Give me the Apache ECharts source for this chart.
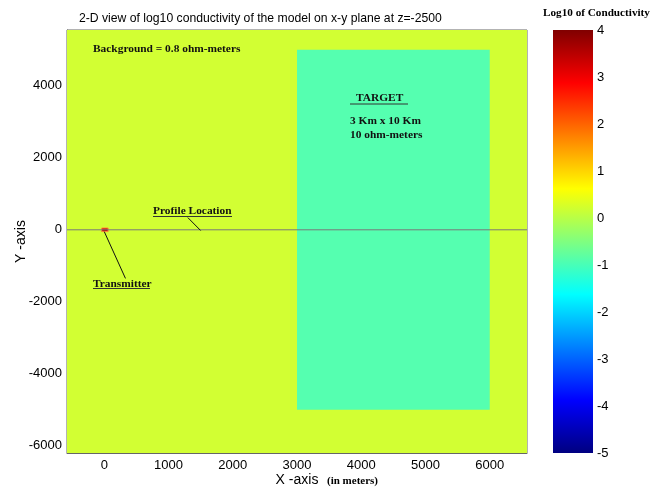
<!DOCTYPE html>
<html>
<head>
<meta charset="utf-8">
<script src="https://cdn.jsdelivr.net/npm/echarts@6/dist/echarts.min.js"></script>
<style>
  html, body { margin: 0; padding: 0; background: #fff; }
  #main { width: 665px; height: 490px; }
</style>
</head>
<body>
<div id="main"></div>
<script>
// axis extents (meters)
var xRange = [-580, 6580];
var yRange = [-6200, 5550];
var xTicks = [0, 1000, 2000, 3000, 4000, 5000, 6000];
var yTicks = [-6000, -4000, -2000, 0, 2000, 4000];

// model blocks: [xmin, xmax, ymin, ymax]
var background = [-580, 6580, -6200, 5550];
var target = [3000, 6000, -5000, 5000];
var transmitter = [-40, 60, -50, 50];
var profileLine = [[-580, 0], [6580, 0]];

// leader lines of the notes
var transmitterLeader = [[0, -50], [330, -1350]];
var profileLeader = [[1300, 340], [1500, -20]];

// colorbar (log10 of conductivity)
var cbMin = -5;
var cbMax = 4;

var bgColor = '#d2ff33';
var targetColor = '#55ffb0';
var serif = '"Liberation Serif", "Times New Roman", serif';
var sans = '"Liberation Sans", Arial, sans-serif';

// jet colormap, top of bar first
var jetStops = [
    { offset: 0, color: '#800000' },
    { offset: 0.125, color: '#ff0000' },
    { offset: 0.375, color: '#ffff00' },
    { offset: 0.625, color: '#00ffff' },
    { offset: 0.875, color: '#0000ff' },
    { offset: 1, color: '#000080' }
];

function rectItem(fill, stroke) {
    return function (params, api) {
        var p0 = api.coord([api.value(0), api.value(3)]);
        var p1 = api.coord([api.value(1), api.value(2)]);
        return {
            type: 'rect',
            shape: { x: p0[0], y: p0[1], width: p1[0] - p0[0], height: p1[1] - p0[1] },
            style: { fill: fill, stroke: stroke || null, lineWidth: stroke ? 1 : 0 }
        };
    };
}

function noteText(x, y, text) {
    return {
        type: 'text', left: x, top: y, z: 100,
        style: { text: text, font: 'bold 11.4px ' + serif, fill: '#111' }
    };
}
function underline(x1, x2, y) {
    return {
        type: 'line', z: 100,
        shape: { x1: x1, y1: y, x2: x2, y2: y },
        style: { stroke: '#333', lineWidth: 1 }
    };
}

function plainNum(v) {
    return String(v);
}

var chart = echarts.init(document.getElementById('main'));
var option = {
    animation: false,
    title: {
        text: '2-D view of log10 conductivity of the model on x-y plane at z=-2500',
        left: 74,
        top: 8,
        textStyle: { fontFamily: sans, fontSize: 12.2, fontWeight: 'normal', color: '#000' }
    },
    grid: [
        { left: 67, top: 30, width: 460, height: 423, show: true, borderColor: '#666', borderWidth: 1, outerBoundsMode: 'none', containLabel: false },
        { left: 553, top: 30, width: 40, height: 423, outerBoundsMode: 'none', containLabel: false }
    ],
    xAxis: [{
        gridIndex: 0,
        type: 'value',
        min: xRange[0],
        max: xRange[1],
        name: 'X -axis',
        nameLocation: 'middle',
        nameGap: 20,
        nameMoveOverlap: false,
        nameTextStyle: { fontFamily: sans, fontSize: 14, color: '#000' },
        axisLine: { show: true, onZero: false, lineStyle: { color: '#666' } },
        axisTick: { inside: true, length: 4, customValues: xTicks, lineStyle: { color: '#555' } },
        axisLabel: { customValues: xTicks, formatter: plainNum, fontFamily: sans, fontSize: 13, color: '#000', margin: 6 },
        splitLine: { show: false }
    }, {
        gridIndex: 1,
        type: 'value',
        min: 0,
        max: 1,
        show: false
    }],
    yAxis: [{
        gridIndex: 0,
        type: 'value',
        min: yRange[0],
        max: yRange[1],
        name: 'Y -axis',
        nameLocation: 'middle',
        nameGap: 39,
        nameMoveOverlap: false,
        nameTextStyle: { fontFamily: sans, fontSize: 14, color: '#000' },
        axisLine: { show: true, onZero: false, lineStyle: { color: '#666' } },
        axisTick: { inside: true, length: 4, customValues: yTicks, lineStyle: { color: '#555' } },
        axisLabel: { customValues: yTicks, formatter: plainNum, fontFamily: sans, fontSize: 13, color: '#000', margin: 5 },
        splitLine: { show: false }
    }, {
        gridIndex: 1,
        type: 'value',
        position: 'right',
        min: cbMin,
        max: cbMax,
        interval: 1,
        axisLine: { show: false },
        axisTick: { show: false },
        axisLabel: { formatter: plainNum, fontFamily: sans, fontSize: 13, color: '#000', margin: 4 },
        splitLine: { show: false }
    }],
    series: [{
        type: 'custom',
        xAxisIndex: 0, yAxisIndex: 0,
        renderItem: rectItem(bgColor),
        data: [background],
        silent: true
    }, {
        type: 'custom',
        xAxisIndex: 0, yAxisIndex: 0,
        renderItem: rectItem(targetColor),
        data: [target],
        silent: true
    }, {
        type: 'line',
        xAxisIndex: 0, yAxisIndex: 0,
        data: profileLine,
        symbol: 'none',
        lineStyle: { color: '#7a7a7a', width: 1 }
    }, {
        type: 'line',
        xAxisIndex: 0, yAxisIndex: 0,
        data: transmitterLeader,
        symbol: 'none',
        lineStyle: { color: '#111', width: 1 }
    }, {
        type: 'line',
        xAxisIndex: 0, yAxisIndex: 0,
        data: profileLeader,
        symbol: 'none',
        lineStyle: { color: '#111', width: 1 }
    }, {
        type: 'custom',
        xAxisIndex: 0, yAxisIndex: 0,
        renderItem: rectItem('#c00000', '#ff8a3c'),
        data: [transmitter],
        silent: true
    }, {
        // colorbar
        type: 'custom',
        xAxisIndex: 1, yAxisIndex: 1,
        renderItem: function (params, api) {
            var p0 = api.coord([0, cbMax]);
            var p1 = api.coord([1, cbMin]);
            return {
                type: 'rect',
                shape: { x: p0[0], y: p0[1], width: p1[0] - p0[0], height: p1[1] - p0[1] },
                style: { fill: new echarts.graphic.LinearGradient(0, 0, 0, 1, jetStops) }
            };
        },
        data: [[cbMin, cbMax]],
        silent: true
    }],
    graphic: [
        {
            type: 'text', left: 543, top: 8, z: 100,
            style: { text: 'Log10 of Conductivity', font: 'bold 11.2px ' + serif, fill: '#000' }
        },
        noteText(93, 44, 'Background = 0.8 ohm-meters'),
        noteText(356, 93, 'TARGET'),
        underline(350, 408, 104),
        noteText(350, 116, '3 Km x 10 Km'),
        noteText(350, 130, '10 ohm-meters'),
        noteText(153, 206, 'Profile Location'),
        underline(153, 232, 216.5),
        noteText(93, 279, 'Transmitter'),
        underline(93, 150, 288.5),
        {
            type: 'text', left: 327, top: 476, z: 100,
            style: { text: '(in meters)', font: 'bold 11px ' + serif, fill: '#000' }
        }
    ]
};
chart.setOption(option);
</script>
</body>
</html>
